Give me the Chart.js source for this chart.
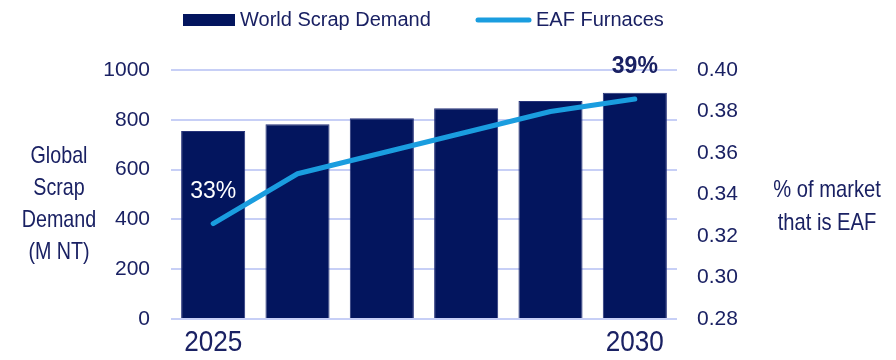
<!DOCTYPE html>
<html>
<head>
<meta charset="utf-8">
<script src="https://cdn.jsdelivr.net/npm/chart.js@4"></script>
<style>
  body { margin: 0; background: #fff; }
  #wrap { width: 896px; height: 360px; }
</style>
</head>
<body>
<div id="wrap"><canvas id="chart"></canvas></div>
<script>
const years = ['2025', '', '', '', '', '2030']
const scrapDemand = [755, 782, 806, 846, 876, 909]
const eafShare = [0.326, 0.35, 0.36, 0.37, 0.38, 0.386]
const labelledPoints = [0, 5]
const leftTitle = ['Global', 'Scrap', 'Demand', '(M NT)']
const rightTitle = ['% of market', 'that is EAF']

const NAVY = '#03155e'
const TEXT = '#1a2163'
const BLUE = '#1a9ddf'
const GRID = '#c7cff6'
const SANS = "'Liberation Sans', Arial, sans-serif"

// no narrow face installed, so squeeze the regular one
function narrowText(ctx, text, x, y, sx) {
  ctx.save()
  ctx.translate(x, y)
  ctx.scale(sx, 1)
  ctx.fillText(text, 0, 0)
  ctx.restore()
}

// legend, axis titles, year labels and point labels drawn on the canvas
const extras = {
  id: 'extras',
  afterDatasetsDraw(chart) {
    const ctx = chart.ctx
    const ds = chart.data.datasets
    ctx.save()

    // legend
    ctx.fillStyle = NAVY
    ctx.fillRect(183, 14, 52, 12)
    ctx.font = '20px ' + SANS
    ctx.fillStyle = TEXT
    ctx.textBaseline = 'middle'
    ctx.textAlign = 'left'
    ctx.fillText(ds[0].label, 240, 20)
    ctx.strokeStyle = BLUE
    ctx.lineWidth = 5
    ctx.lineCap = 'round'
    ctx.beginPath()
    ctx.moveTo(478, 20)
    ctx.lineTo(529, 20)
    ctx.stroke()
    ctx.fillText(ds[1].label, 536, 20)

    // axis titles
    ctx.font = '24px ' + SANS
    ctx.textAlign = 'center'
    leftTitle.forEach((t, i) => narrowText(ctx, t, 59, 156 + i * 32, 0.82))
    rightTitle.forEach((t, i) => narrowText(ctx, t, 827, 190 + i * 33, 0.84))

    // year labels under the first and last bar
    const xs = chart.scales.x
    ctx.font = '30px ' + SANS
    years.forEach((y, i) => {
      if (y) narrowText(ctx, y, xs.getPixelForValue(i), xs.top + 24, 0.87)
    })

    // share labels at first and last point
    const meta = chart.getDatasetMeta(1)
    labelledPoints.forEach((idx) => {
      const pt = meta.data[idx]
      const last = idx === eafShare.length - 1
      ctx.font = (last ? 'bold ' : '') + '23px ' + SANS
      ctx.fillStyle = last ? TEXT : '#ffffff'
      ctx.fillText(Math.round(eafShare[idx] * 100) + '%', pt.x, pt.y - 32)
    })
    ctx.restore()
  }
}

const ctx = document.getElementById('chart').getContext('2d')
new Chart(ctx, {
  data: {
    labels: years,
    datasets: [
      {
        type: 'bar',
        label: 'World Scrap Demand',
        data: scrapDemand,
        backgroundColor: NAVY,
        borderColor: '#27337a',
        borderWidth: 1,
        categoryPercentage: 1,
        barPercentage: 0.76,
        yAxisID: 'y',
        order: 2
      },
      {
        type: 'line',
        label: 'EAF Furnaces',
        data: eafShare,
        borderColor: BLUE,
        borderWidth: 5,
        borderCapStyle: 'round',
        borderJoinStyle: 'round',
        pointRadius: 0,
        tension: 0,
        yAxisID: 'y1',
        order: 1
      }
    ]
  },
  options: {
    responsive: true,
    maintainAspectRatio: false,
    animation: false,
    layout: { padding: { top: 70, left: 0, right: 0, bottom: 0 } },
    plugins: {
      legend: { display: false },
      tooltip: { enabled: false }
    },
    scales: {
      x: {
        grid: { display: false },
        border: { display: false },
        ticks: { display: false },
        afterFit: (s) => { s.height = 41 }
      },
      y: {
        position: 'left',
        min: 0,
        max: 1000,
        grid: { color: GRID, lineWidth: 2, drawTicks: false },
        border: { display: false },
        ticks: {
          stepSize: 200,
          color: TEXT,
          font: { family: SANS, size: 21 },
          padding: 21,
          callback: (v) => String(v)
        },
        afterFit: (s) => { s.width = 171 }
      },
      y1: {
        position: 'right',
        min: 0.28,
        max: 0.40,
        grid: { display: false, drawTicks: false },
        border: { display: false },
        ticks: {
          stepSize: 0.02,
          color: TEXT,
          font: { family: SANS, size: 21 },
          padding: 20,
          callback: (v) => v.toFixed(2)
        },
        afterFit: (s) => { s.width = 219 }
      }
    }
  },
  plugins: [extras]
})
</script>
</body>
</html>
